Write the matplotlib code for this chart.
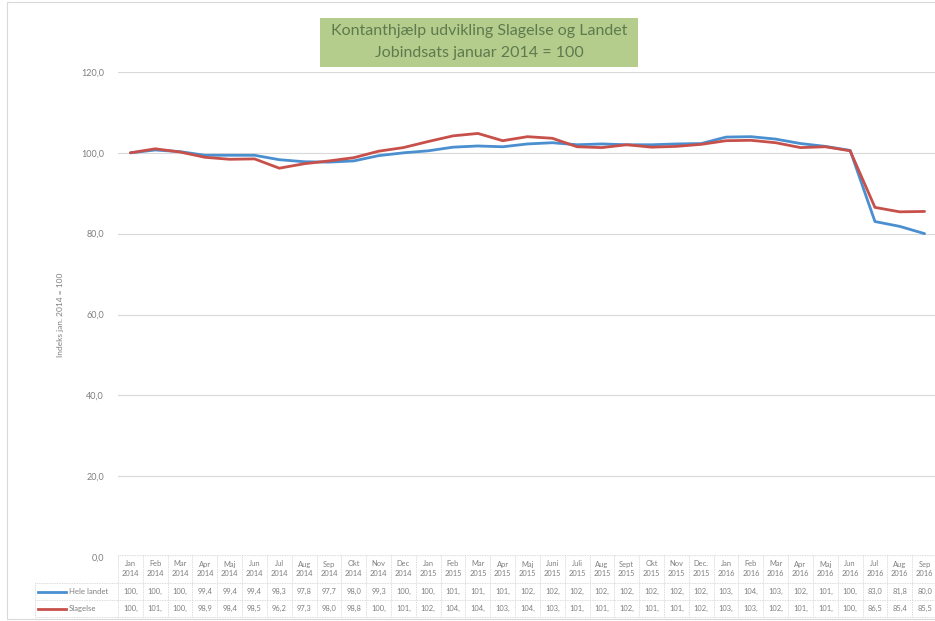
import matplotlib
matplotlib.use("Agg")
import matplotlib.pyplot as plt
import matplotlib.transforms as mtransforms
from matplotlib.patches import Rectangle
from matplotlib.lines import Line2D

plt.rcParams['font.family'] = ['Lato', 'DejaVu Sans']

months = ["Jan", "Feb", "Mar", "Apr", "Maj", "Jun", "Jul", "Aug", "Sep", "Okt", "Nov", "Dec",
          "Jan", "Feb", "Mar", "Apr", "Maj", "Juni", "Juli", "Aug", "Sept", "Okt", "Nov", "Dec.",
          "Jan", "Feb", "Mar", "Apr", "Maj", "Jun", "Jul", "Aug", "Sep"]
years = ["2014"] * 12 + ["2015"] * 12 + ["2016"] * 9

hele_landet = [100.0, 100.7, 100.3, 99.4, 99.4, 99.4, 98.3, 97.8, 97.7, 98.0, 99.3, 100.0,
               100.5, 101.4, 101.7, 101.5, 102.2, 102.5, 102.0, 102.2, 102.0, 102.0, 102.2, 102.3,
               103.9, 104.0, 103.4, 102.3, 101.6, 100.6, 83.0, 81.8, 80.0]
slagelse = [100.0, 101.0, 100.2, 98.9, 98.4, 98.5, 96.2, 97.3, 98.0, 98.8, 100.4, 101.3,
            102.8, 104.2, 104.8, 103.0, 104.0, 103.6, 101.5, 101.3, 102.0, 101.4, 101.6, 102.1,
            103.0, 103.1, 102.5, 101.3, 101.5, 100.5, 86.5, 85.4, 85.5]

series_names = ["Hele landet", "Slagelse"]
series_values = [hele_landet, slagelse]
colors = ["#4a8fd0", "#c8504a"]

W, H = 935, 621
fig = plt.figure(figsize=(W / 100, H / 100), dpi=100)

# outer chart border
fig.patches.append(Rectangle((7 / W, 1 - 619 / H), (W - 6) / W, 617 / H, transform=fig.transFigure,
                             fill=False, edgecolor="#d9d9d9", linewidth=0.8))

ax_left, ax_right = 118, 937
ax_top, ax_bot = 72, 557
ax = fig.add_axes([ax_left / W, 1 - ax_bot / H, (ax_right - ax_left) / W, (ax_bot - ax_top) / H])

n = len(months)
x = list(range(n))
for vals, c, name in zip(series_values, colors, series_names):
    ax.plot(x, vals, color=c, linewidth=2.0, solid_joinstyle="round", solid_capstyle="round", label=name)

ax.set_xlim(-0.5, n - 0.5)
ax.set_ylim(0, 120)
ax.set_yticks(range(0, 121, 20))
ax.set_yticklabels([f"{v:.1f}".replace(".", ",") for v in range(0, 121, 20)], fontsize=6.5, color="#7f7f7f")
ax.tick_params(axis="y", length=0, pad=10)
ax.set_xticks([])
ax.grid(axis="y", color="#d9d9d9", linewidth=0.8)
ax.set_axisbelow(True)
for s in ax.spines.values():
    s.set_visible(False)

ax.set_ylabel("Indeks jan. 2014 = 100", fontsize=6, color="#7f7f7f", labelpad=12)

# data table below the axes
trans = mtransforms.blended_transform_factory(ax.transData, ax.transAxes)
hpx = ax_bot - ax_top
def yfrac(py):
    return (ax_bot - py) / hpx

y_top = yfrac(555)
y_h1 = yfrac(583)
y_r1 = yfrac(600)
y_r2 = yfrac(617)
grid_c = "#d0d0d0"
txt_c = "#7f7f7f"

for i in range(n):
    ax.text(i, (y_top + y_h1) / 2, f"{months[i]}\n{years[i]}", transform=trans, ha="center", va="center",
            fontsize=5.4, color=txt_c, linespacing=1.5, clip_on=False)
    for r, vals in enumerate(series_values):
        yc = (y_h1 + y_r1) / 2 if r == 0 else (y_r1 + y_r2) / 2
        s = f"{vals[i]:.1f}".replace(".", ",")[:4]
        ax.text(i, yc, s, transform=trans, ha="center", va="center", fontsize=5.4, color=txt_c, clip_on=False)

# vertical cell borders
for i in range(n + 1):
    ax.add_line(Line2D([i - 0.5, i - 0.5], [y_top, y_r2], transform=trans, color=grid_c,
                       linewidth=0.6, linestyle=(0, (1, 1)), clip_on=False))
# horizontal borders across data columns
for yy in [y_top, y_h1, y_r1, y_r2]:
    ax.add_line(Line2D([-0.5, n - 0.5], [yy, yy], transform=trans, color=grid_c,
                       linewidth=0.6, linestyle=(0, (1, 1)), clip_on=False))

# row label area (in figure pixels)
def fx(px):
    return px / W
def fy(py):
    return 1 - py / H

lab_left = 35
for yy in [583, 600, 617]:
    fig.add_artist(Line2D([fx(lab_left), fx(ax_left)], [fy(yy), fy(yy)], color=grid_c, linewidth=0.6,
                          linestyle=(0, (1, 1))))
fig.add_artist(Line2D([fx(lab_left), fx(lab_left)], [fy(583), fy(617)], color=grid_c, linewidth=0.6,
                      linestyle=(0, (1, 1))))

for r, (name, c) in enumerate(zip(series_names, colors)):
    yc = (583 + 600) / 2 if r == 0 else (600 + 617) / 2
    fig.add_artist(Line2D([fx(38), fx(66)], [fy(yc), fy(yc)], color=c, linewidth=2.0))
    fig.text(fx(69), fy(yc), name, ha="left", va="center", fontsize=5.6, color=txt_c)

# title box
fig.patches.append(Rectangle((fx(320), fy(67)), (638 - 320) / W, (67 - 18) / H, transform=fig.transFigure,
                             facecolor="#b4cd8c", edgecolor="none"))
fig.text(fx(479), fy(31), "Kontanthjælp udvikling Slagelse og Landet", ha="center", va="center",
         fontsize=11.5, color="#5e7a4e")
fig.text(fx(479), fy(53), "Jobindsats januar 2014 = 100", ha="center", va="center",
         fontsize=11.5, color="#5e7a4e")

fig.savefig("out.png", dpi=100, facecolor="white")
